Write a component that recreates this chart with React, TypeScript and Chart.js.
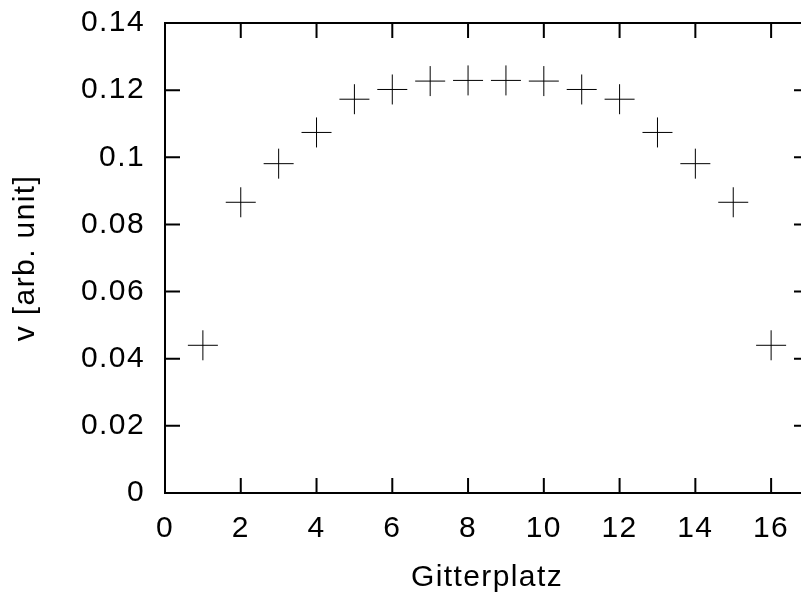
import React, { useEffect, useRef } from "react";
import { Chart, registerables } from "chart.js";

Chart.register(...registerables);

const sites = [1, 2, 3, 4, 5, 6, 7, 8, 9, 10, 11, 12, 13, 14, 15, 16];
const velocity = [
  0.044, 0.0866, 0.0981, 0.1074, 0.1173, 0.1202, 0.1227, 0.1229,
  0.1229, 0.1227, 0.1202, 0.1173, 0.1074, 0.0981, 0.0866, 0.044,
];
const xTitle = "Gitterplatz";
const yTitle = "v [arb. unit]";

const FONT = { family: "'Liberation Sans', Arial, Helvetica, sans-serif", size: 30 };

const framePlugin = {
  id: "gnuplotFrame",
  beforeDraw(chart: any) {
    (chart.ctx as any).letterSpacing = "1.4px";
  },
  afterDraw(chart: any) {
    const { ctx, chartArea, scales } = chart;
    const { left, right, top, bottom } = chartArea;
    const tl = 15;
    ctx.save();
    (ctx as any).letterSpacing = "0px";
    ctx.strokeStyle = "#000";
    ctx.lineWidth = 2;
    ctx.beginPath();
    ctx.rect(left, top, right - left, bottom - top);
    scales.x.ticks.forEach((t: any) => {
      const px = scales.x.getPixelForValue(t.value);
      ctx.moveTo(px, bottom);
      ctx.lineTo(px, bottom - tl);
      ctx.moveTo(px, top);
      ctx.lineTo(px, top + tl);
    });
    scales.y.ticks.forEach((t: any) => {
      const py = scales.y.getPixelForValue(t.value);
      ctx.moveTo(left, py);
      ctx.lineTo(left + tl, py);
      ctx.moveTo(right, py);
      ctx.lineTo(right - tl, py);
    });
    ctx.stroke();
    ctx.restore();
  },
};

export default function App() {
  const ref = useRef<HTMLCanvasElement | null>(null);

  useEffect(() => {
    if (!ref.current) return;
    const chart = new Chart(ref.current, {
      type: "scatter",
      data: {
        datasets: [
          {
            data: sites.map((s, i) => ({ x: s, y: velocity[i] })),
            pointStyle: "cross",
            pointRadius: 15,
            pointHoverRadius: 15,
            borderColor: "#000",
            backgroundColor: "#000",
            borderWidth: 1,
            showLine: false,
          },
        ],
      },
      options: {
        responsive: false,
        animation: false,
        events: [],
        layout: { padding: { left: 0, top: 23, right: 21, bottom: 0 } },
        plugins: { legend: { display: false }, tooltip: { enabled: false } },
        scales: {
          x: {
            type: "linear",
            min: 0,
            max: 17,
            grid: { display: false, drawTicks: false },
            border: { display: false },
            ticks: {
              stepSize: 2,
              includeBounds: false,
              color: "#000",
              font: FONT,
              padding: 18,
              maxRotation: 0,
            },
            title: {
              display: true,
              text: xTitle,
              color: "#000",
              font: FONT,
              padding: { top: 0, bottom: 0 },
            },
            afterFit(scale: any) {
              scale.height = 103;
              scale.paddingLeft = 0;
              scale.paddingRight = 0;
            },
          },
          y: {
            type: "linear",
            min: 0,
            max: 0.14,
            grid: { display: false, drawTicks: false },
            border: { display: false },
            ticks: {
              stepSize: 0.02,
              color: "#000",
              font: FONT,
              padding: 20,
              callback: (v: any) => String(Math.round(Number(v) * 100) / 100),
            },
            title: {
              display: true,
              text: yTitle,
              color: "#000",
              font: FONT,
              padding: { top: 8, bottom: 0 },
            },
            afterFit(scale: any) {
              scale.width = 165;
              scale.paddingTop = 0;
              scale.paddingBottom = 0;
            },
          },
        },
      },
      plugins: [framePlugin],
    });
    return () => chart.destroy();
  }, []);

  return (
    <div
      style={{
        position: "fixed",
        left: 0,
        top: 0,
        width: 801,
        height: 596,
        overflow: "hidden",
        background: "#fff",
      }}
    >
      <canvas ref={ref} width={830} height={596} style={{ display: "block" }} />
    </div>
  );
}
